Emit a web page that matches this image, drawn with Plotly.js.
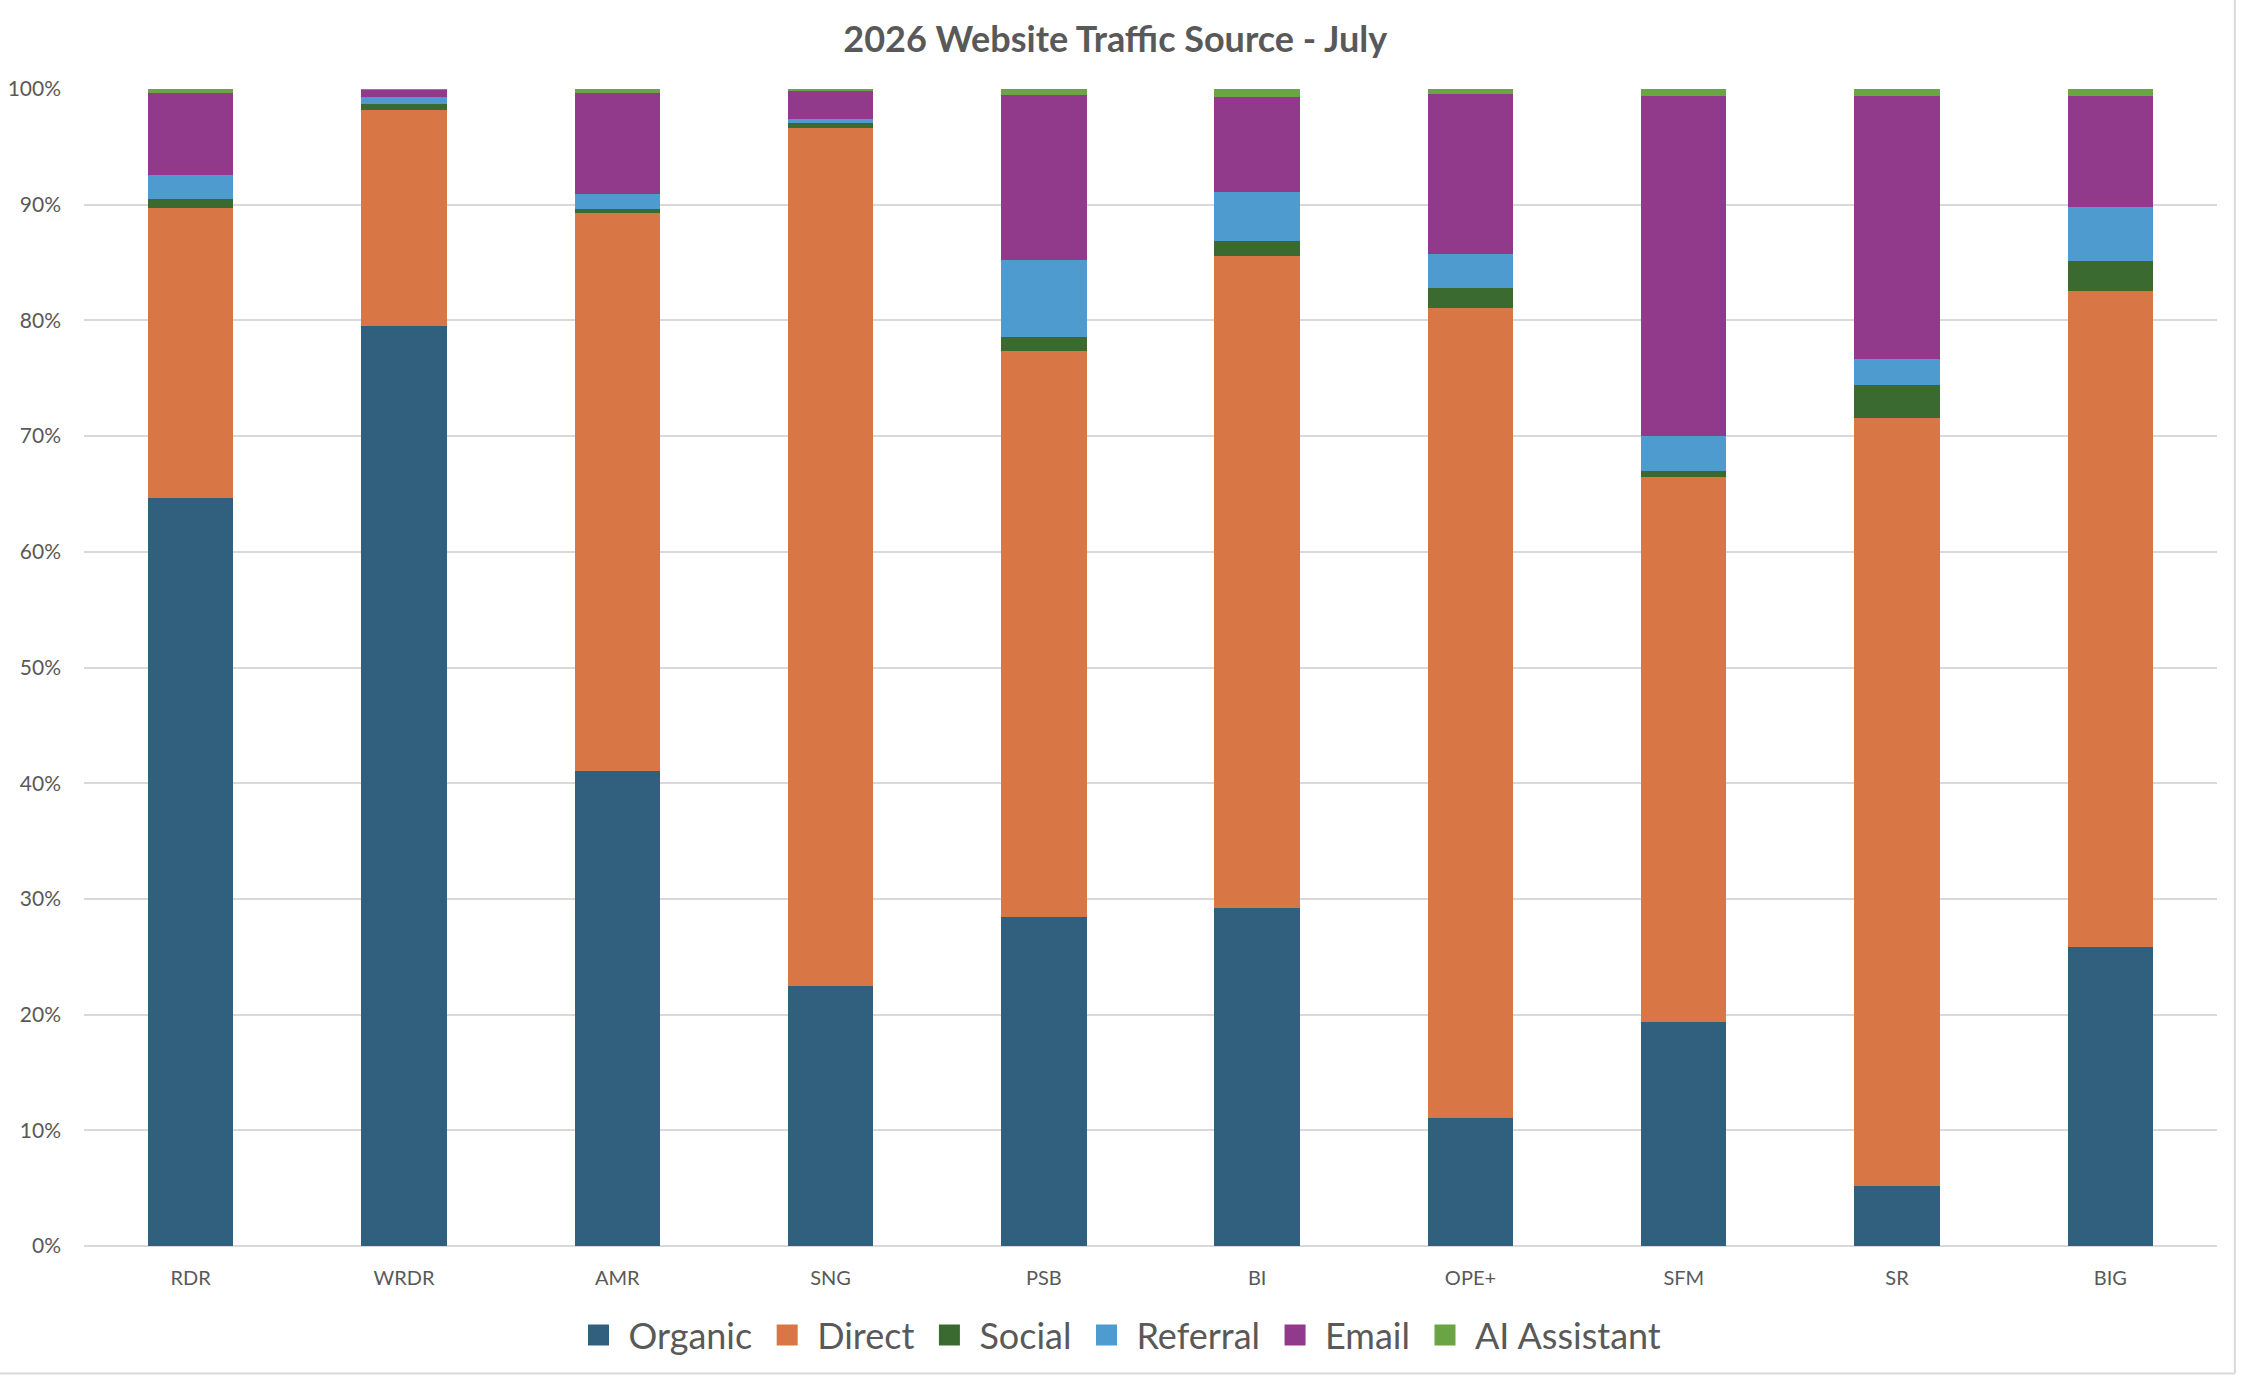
<!DOCTYPE html>
<html>
<head>
<meta charset="utf-8">
<script src="https://cdn.plot.ly/plotly-3.0.1.min.js"></script>
<style>
html,body{margin:0;padding:0;background:#fff;}
#chart{width:2244px;height:1378px;}
</style>
</head>
<body>
<div id="chart"></div>
<script>
// Categories (x axis)
const categories = ["RDR","WRDR","AMR","SNG","PSB","BI","OPE+","SFM","SR","BIG"];

// Series values (% of traffic)
const organic   = [64.66, 79.51, 41.04, 22.48, 28.41, 29.21, 11.04, 19.40,  5.19, 25.88];
const direct    = [25.05, 18.67, 48.24, 74.15, 48.94, 56.35, 70.03, 47.06, 66.37, 56.66];
const social    = [ 0.78,  0.52,  0.35,  0.43,  1.21,  1.30,  1.73,  0.51,  2.85,  2.59];
const referral  = [ 2.08,  0.61,  1.29,  0.35,  6.66,  4.24,  2.93,  3.03,  2.25,  4.67];
const email     = [ 7.08,  0.59,  8.73,  2.42, 14.26,  8.21, 13.84, 29.39, 22.73,  9.59];
const aiAssist  = [ 0.35,  0.12,  0.35,  0.17,  0.52,  0.69,  0.43,  0.61,  0.61,  0.61];

const seriesNames = ["Organic","Direct","Social","Referral","Email","AI Assistant"];
const seriesValues = [organic, direct, social, referral, email, aiAssist];
const seriesColors = ["#31607F","#D87645","#3A6A30","#4E9BCF","#913A8B","#6AA444"];

// Y tick values / labels
const yTickVals = [0,10,20,30,40,50,60,70,80,90,100];
const yTickText = yTickVals.map(v => v + "%");

const FONT = "Lato, 'Open Sans', sans-serif";
const GREY = "#595959";

const traces = [];
seriesNames.forEach((name, i) => {
  traces.push({
    type: "bar",
    name: name,
    x: categories,
    y: seriesValues[i],
    marker: {color: seriesColors[i], line: {width: 0}},
    showlegend: false,
    hovertemplate: "%{x}<br>" + name + ": %{y:.2f}%<extra></extra>"
  });
});
// legend-only entries with larger square swatches
seriesNames.forEach((name, i) => {
  traces.push({
    type: "scatter",
    mode: "markers",
    name: name,
    x: [null],
    y: [null],
    marker: {symbol: "square", size: 16, color: seriesColors[i],
             line: {color: seriesColors[i], width: 5}},
    showlegend: true,
    hoverinfo: "skip"
  });
});

const layout = {
  width: 2244,
  height: 1378,
  paper_bgcolor: "#ffffff",
  plot_bgcolor: "#ffffff",
  barmode: "stack",
  bargap: 0.6,
  margin: {l: 84, r: 27, t: 89, b: 132, pad: 0},
  font: {family: FONT, color: GREY},
  title: {
    text: "<b>2026 Website Traffic Source - July</b>",
    font: {family: FONT, size: 36, color: GREY},
    x: 0.497, xanchor: "center",
    y: 1 - 39/1378, yanchor: "middle", yref: "container"
  },
  xaxis: {
    type: "category",
    categoryorder: "array",
    categoryarray: categories,
    tickfont: {family: FONT, size: 20, color: GREY},
    showgrid: false,
    showline: false,
    zeroline: false,
    ticks: "",
    ticklen: 0,
    ticklabelstandoff: 18,
    automargin: false
  },
  yaxis: {
    range: [0, 100],
    tickvals: yTickVals,
    ticktext: yTickText,
    tickfont: {family: FONT, size: 21, color: GREY},
    showgrid: true,
    gridcolor: "#D9D9D9",
    gridwidth: 2,
    zeroline: true,
    zerolinecolor: "#D9D9D9",
    zerolinewidth: 2,
    showline: false,
    ticks: "",
    ticklabelstandoff: 22,
    automargin: false,
    fixedrange: true
  },
  legend: {
    orientation: "h",
    xref: "container", yref: "container",
    x: 0.498, xanchor: "center",
    y: 1 - 1335/1378, yanchor: "middle",
    traceorder: "normal",
    font: {family: FONT, size: 36, color: GREY},
    itemwidth: 50,
    bgcolor: "rgba(0,0,0,0)"
  },
  shapes: [
    {type: "line", xref: "paper", yref: "paper", x0: 1.0084, x1: 1.0084, y0: -0.11, y1: 1.08,
     line: {color: "#D9D9D9", width: 2}},
    {type: "line", xref: "paper", yref: "paper", x0: -0.04, x1: 1.0084, y0: -0.1102, y1: -0.1102,
     line: {color: "#D9D9D9", width: 2}}
  ]
};

Plotly.newPlot("chart", traces, layout, {displayModeBar: false, staticPlot: true});
</script>
</body>
</html>
